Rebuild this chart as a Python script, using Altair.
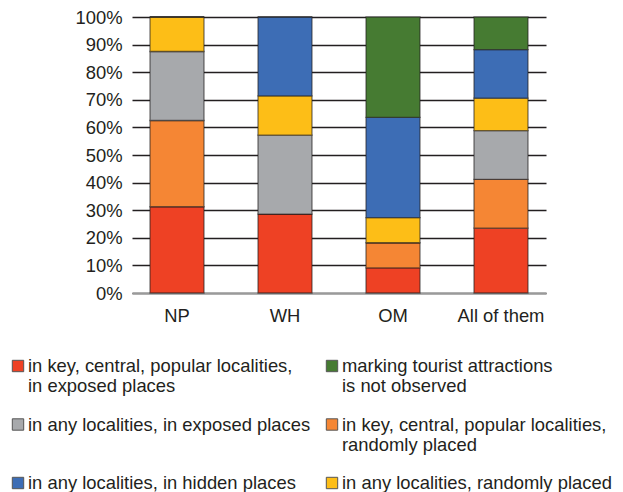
import altair as alt
import pandas as pd

categories = ["NP", "WH", "OM", "All of them"]
series = ["red", "orange", "gray", "yellow", "blue", "green"]
colors = ["#EE4124", "#F58634", "#A7A9AC", "#FDBE17", "#3D6DB5", "#467B32"]

# percentage shares, stack order bottom -> top
red = [31.25, 28.6, 9.1, 23.5]
orange = [31.25, 0.0, 9.1, 17.7]
gray = [25.0, 28.6, 0.0, 17.6]
yellow = [12.5, 14.2, 9.1, 11.8]
blue = [0.0, 28.6, 36.3, 17.6]
green = [0.0, 0.0, 36.4, 11.8]

legend_labels = [
    "in key, central, popular localities,\nin exposed places",
    "in key, central, popular localities,\nrandomly placed",
    "in any localities, in exposed places",
    "in any localities, randomly placed",
    "in any localities, in hidden places",
    "marking tourist attractions\nis not observed",
]
legend_col = [0, 1, 0, 1, 0, 1]
legend_row = [0, 1, 1, 2, 2, 0]

values = [red, orange, gray, yellow, blue, green]
rows = []
for si, s in enumerate(series):
    for ci, c in enumerate(categories):
        rows.append({"cat": c, "series": s, "idx": si, "value": values[si][ci]})
df = pd.DataFrame(rows)

leg = pd.DataFrame({
    "series": series,
    "label": legend_labels,
    "col": legend_col,
    "row": legend_row,
})

FONT = "Liberation Sans"
FS = 18.4
TXT = "#231F20"

color = alt.Color("series:N", scale=alt.Scale(domain=series, range=colors), legend=None)

bars = alt.Chart(df).mark_bar(stroke="#231F20", strokeOpacity=0.6, strokeWidth=1.3).encode(
    x=alt.X("cat:N", sort=categories,
            scale=alt.Scale(paddingInner=0.5, paddingOuter=0.1667),
            axis=alt.Axis(title=None, labelAngle=0, labelFontSize=FS, labelFont=FONT,
                          labelColor=TXT, ticks=False, labelPadding=13,
                          domainColor="#9A9A9A", domainWidth=2)),
    y=alt.Y("value:Q", stack="zero",
            scale=alt.Scale(domain=[0, 100], nice=False),
            axis=alt.Axis(title=None, values=list(range(0, 101, 10)),
                          labelExpr="datum.value + '%'", labelFontSize=FS, labelFont=FONT,
                          labelColor=TXT, ticks=False, labelPadding=10, domain=False,
                          grid=True, gridColor="#231F20", gridWidth=1.3)),
    color=color,
    order=alt.Order("idx:Q", sort="ascending"),
)

lx = alt.X("col:Q", scale=alt.Scale(domain=[0, 1], range=[-104, 210]), axis=None)
ly = alt.Y("row:Q", scale=alt.Scale(domain=[0, 2], range=[349, 466]), axis=None)

leg_sym = alt.Chart(leg).mark_square(size=130, xOffset=-10, stroke="#555555",
                                     strokeWidth=1, opacity=1).encode(
    x=lx, y=ly, fill=alt.Fill("series:N", scale=alt.Scale(domain=series, range=colors), legend=None)
)
leg_txt = alt.Chart(leg).mark_text(align="left", baseline="alphabetic", dy=6,
                                   fontSize=FS, font=FONT, color=TXT,
                                   lineBreak="\n", lineHeight=20).encode(
    x=lx, y=ly, text="label:N"
)

chart = alt.layer(bars, leg_sym, leg_txt).resolve_scale(
    x="independent", y="independent"
).properties(
    width=414, height=276,
    autosize=alt.AutoSizeParams(type="none"),
    padding={"left": 132, "top": 17, "right": 77, "bottom": 199},
).configure_view(stroke=None)

chart.save("out.html", embed_options={"renderer": "svg", "actions": False})
